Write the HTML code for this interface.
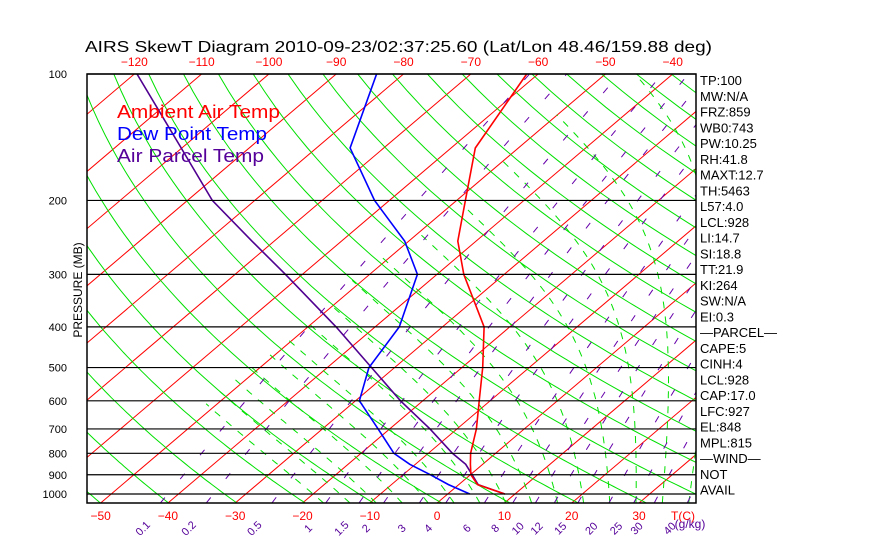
<!DOCTYPE html>
<html><head><meta charset="utf-8">
<style>
html,body{margin:0;padding:0;background:#fff;width:870px;height:560px;overflow:hidden}
svg{display:block;font-family:"Liberation Sans",sans-serif}
</style></head>
<body>
<svg id="chart" width="870" height="560" viewBox="0 0 870 560">
<defs><clipPath id="plotclip"><rect x="87" y="74" width="609" height="429"/></clipPath></defs>
<text x="85" y="52" font-size="16" textLength="627" lengthAdjust="spacingAndGlyphs" fill="#000">AIRS SkewT Diagram 2010-09-23/02:37:25.60 (Lat/Lon 48.46/159.88 deg)</text>
<g id="bg" clip-path="url(#plotclip)"></g>
<g id="series" clip-path="url(#plotclip)"></g>
<g id="axes"></g>
<text transform="translate(82,290) rotate(-90)" font-size="12" text-anchor="middle" fill="#000">PRESSURE (MB)</text>
<g>
<text x="117" y="118" font-size="18" fill="#ff0000" textLength="163" lengthAdjust="spacingAndGlyphs">Ambient Air Temp</text>
<text x="117" y="140" font-size="18" fill="#0000ff" textLength="150" lengthAdjust="spacingAndGlyphs">Dew Point Temp</text>
<text x="117" y="162" font-size="18" fill="#550099" textLength="147" lengthAdjust="spacingAndGlyphs">Air Parcel Temp</text>
</g>
<g id="side"></g>
</svg>
<script>
// data
const pressures = [100,150,200,250,300,400,500,600,700,800,850,900,950,1000];
const ambientT = [-61.7,-56.4,-48.7,-42.7,-36.0,-23.8,-16.9,-11.6,-7.1,-3.7,-1.8,0.1,2.8,8.5];
const dewT = [-84,-75,-62.2,-50.6,-42.9,-36.4,-33.8,-29.4,-21.7,-15.1,-10.8,-5.9,-1.5,3.3];
const parcelT = [-119.6,-100.1,-86.3,-73.3,-62.5,-45.8,-33.4,-23.3,-14.0,-6.4,-2.5,0.3,2.9,8.5];
const pressureTicks = [100,200,300,400,500,600,700,800,900,1000];
const bottomTTicks = [-50,-40,-30,-20,-10,0,10,20,30];
const topTTicks = [-120,-110,-100,-90,-80,-70,-60,-50,-40];
const mixRatios = [0.1,0.2,0.5,1,1.5,2,3,4,6,8,10,12,15,20,25,30,40];
const mixLabels = ["0.1","0.2","0.5","1","1.5","2","3","4","6","8","10","12","15","20","25","30","40"];
const sideLabels = ["TP:100","MW:N/A","FRZ:859","WB0:743","PW:10.25","RH:41.8","MAXT:12.7","TH:5463","L57:4.0","LCL:928","LI:14.7","SI:18.8","TT:21.9","KI:264","SW:N/A","EI:0.3","\u2014PARCEL\u2014","CAPE:5","CINH:4","LCL:928","CAP:17.0","LFC:927","EL:848","MPL:815","\u2014WIND\u2014","NOT","AVAIL"];

const NS="http://www.w3.org/2000/svg";
const PT=74, PB=503, PL=87, PR=696, PBOT=1050;
function yP(p){return PT+182.4*Math.log(p/100);}
function xT(T,p){return 437+6.73*T+1.177*(PB-yP(p));}
function mk(tag,attrs,parent){const e=document.createElementNS(NS,tag);for(const k in attrs)e.setAttribute(k,attrs[k]);parent.appendChild(e);return e;}
const bg=document.getElementById('bg'),ser=document.getElementById('series'),ax=document.getElementById('axes'),side=document.getElementById('side');
function polyStr(pts){return pts.map(q=>q[0].toFixed(1)+','+q[1].toFixed(1)).join(' ');}

// isotherms
for(let T=-160;T<=50;T+=10){
  const l=mk('line',{x1:xT(T,PBOT),y1:PB,x2:xT(T,100),y2:PT,stroke:'#ff0000','stroke-width':1},bg);
  
  
}
// dry adiabats
for(let th=200;th<=560;th+=10){
  const pts=[];
  for(let p=PBOT;p>=100;p-=10){const T=th*Math.pow(p/1000,0.286)-273.15;pts.push([xT(T,p),yP(p)]);}
  const e=mk('polyline',{points:polyStr(pts),fill:'none',stroke:'#00e000','stroke-width':1},bg);
  
  
}
// moist adiabats
function es(Tc){return 6.112*Math.exp(17.67*Tc/(Tc+243.5));}
function dTdp(Tc,p){const T=Tc+273.15;const rs=0.622*es(Tc)/(p-es(Tc));const Lv=2.5e6,Rd=287,cp=1004;
  return (Rd*T+Lv*rs)/(p*(cp+Lv*Lv*rs*0.622/(Rd*T*T)));}
for(let T0=-20;T0<=44;T0+=4){
  let pts=[];let T=T0;
  for(let p=1000;p<PBOT;p+=5){T+=dTdp(T,p)*5;}
  pts.push([xT(T,PBOT),PB]);
  for(let p=PBOT;p>100;p-=5){T-=dTdp(T,p)*5;if(T<-52)break;pts.push([xT(T,p-5),yP(p-5)]);}
  const e=mk('polyline',{points:polyStr(pts),fill:'none',stroke:'#00e000','stroke-width':1,'stroke-dasharray':'7 8'},bg);
  
  
}
// mixing ratio lines
function tdW(w,p){const e=w*p/(622+w);const a=Math.log(e/6.112);return 243.5*a/(17.67-a);}
mixRatios.forEach((w,i)=>{
  const pts=[];
  for(let p=PBOT;p>=100;p-=25){pts.push([xT(tdW(w,p),p),yP(p)]);}
  const e=mk('polyline',{points:polyStr(pts),fill:'none',stroke:'#6600aa','stroke-width':1,'stroke-dasharray':'7 24'},bg);
  
  
  const lx=xT(tdW(w,PBOT),PBOT)-15;
  const t=mk('text',{x:0,y:0,transform:`translate(${lx.toFixed(1)},531) rotate(-45)`,'font-size':11,fill:'#550099','text-anchor':'middle'},ax);
  t.textContent=mixLabels[i];
  
  
});
// horizontal pressure lines + labels
pressureTicks.forEach(p=>{
  const y=yP(p);
  const l=mk('line',{x1:PL,y1:y,x2:PR,y2:y,stroke:'#000','stroke-width':1.2},ax);
  
  
  const t=mk('text',{x:67,y:y+4,'font-size':11,fill:'#000','text-anchor':'end'},ax);
  t.textContent=String(p);
  
  
});
const frame=mk('rect',{x:PL,y:PT,width:PR-PL,height:PB-PT,fill:'none',stroke:'#000','stroke-width':1.5},ax);


bottomTTicks.forEach(T=>{
  const t=mk('text',{x:xT(T,PBOT),y:520,'font-size':12,fill:'#ff0000','text-anchor':'middle'},ax);
  t.textContent=(T<0?'\u2212':'')+Math.abs(T);
  
  
});
topTTicks.forEach(T=>{
  const t=mk('text',{x:xT(T,100),y:66,'font-size':12,fill:'#ff0000','text-anchor':'middle'},ax);
  t.textContent='\u2212'+Math.abs(T);
  
  
});
const tc=mk('text',{x:683,y:520,'font-size':12,fill:'#ff0000','text-anchor':'middle'},ax);
tc.textContent='T(C)';


const gk=mk('text',{x:690,y:528,'font-size':12,fill:'#550099','text-anchor':'middle'},ax);
gk.textContent='(g/kg)';



// series
function drawSeries(arr,color,name,w){
  const pts=arr.map((T,i)=>[xT(T,pressures[i]),yP(pressures[i])]);
  const e=mk('polyline',{points:polyStr(pts),fill:'none',stroke:color,'stroke-width':w},ser);
  
  
}
drawSeries(parcelT,'#500090','air-parcel-temp-line',1.6);
drawSeries(dewT,'#0000ff','dew-point-line',1.6);
drawSeries(ambientT,'#ff0000','ambient-temp-line',1.6);

// side labels
sideLabels.forEach((s,i)=>{
  const t=mk('text',{x:700,y:85+i*15.75,'font-size':13,fill:'#000'},side);
  t.textContent=s;
  
  
});
</script>
</body></html>
